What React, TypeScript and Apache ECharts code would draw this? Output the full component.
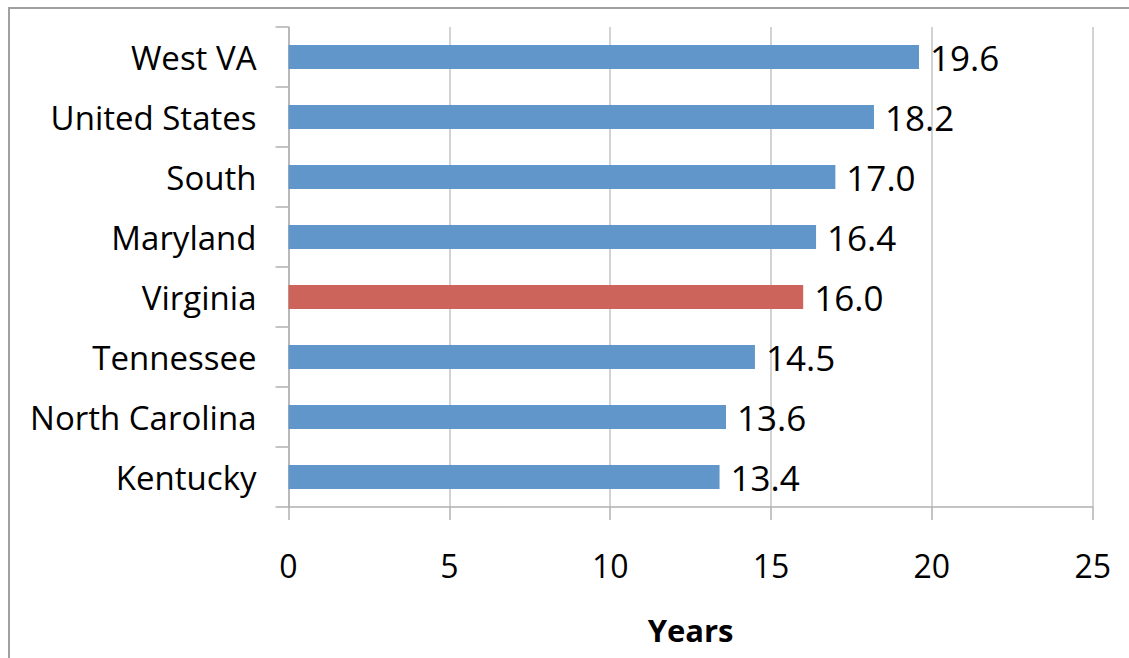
import React, { useEffect, useRef } from "react";
import * as echarts from "echarts";

// Categories listed top to bottom
const categories = [
  "West VA",
  "United States",
  "South",
  "Maryland",
  "Virginia",
  "Tennessee",
  "North Carolina",
  "Kentucky",
];
const values = [19.6, 18.2, 17.0, 16.4, 16.0, 14.5, 13.6, 13.4];
const highlighted = "Virginia";

const xMin = 0;
const xMax = 25;
const xInterval = 5;

const BLUE = "#6096c9";
const RED = "#cc645c";
const FONT = "'Open Sans', sans-serif";

export default function App() {
  const ref = useRef<HTMLDivElement>(null);

  useEffect(() => {
    document.body.style.margin = "0";
    if (!ref.current) return;
    const chart = echarts.init(ref.current, null, { renderer: "svg" });
    chart.setOption({
      animation: false,
      backgroundColor: "#ffffff",
      textStyle: { fontFamily: FONT },
      graphic: [
        {
          type: "rect",
          shape: { x: 9, y: 8, width: 1200, height: 700 },
          style: { fill: "none", stroke: "#a0a0a0", lineWidth: 2 },
          silent: true,
        },
      ],
      grid: { left: 288.5, right: 36.3, top: 27, bottom: 151, containLabel: false },
      xAxis: {
        type: "value",
        min: xMin,
        max: xMax,
        interval: xInterval,
        name: "Years",
        nameLocation: "middle",
        nameGap: 107,
        nameTextStyle: { fontFamily: FONT, fontSize: 31, fontWeight: "bold", color: "#000" },
        axisLine: { show: true, lineStyle: { color: "#b0b0b0", width: 1.5 } },
        axisTick: { show: true, length: 13, lineStyle: { color: "#b0b0b0", width: 1.5 } },
        axisLabel: { fontFamily: FONT, fontSize: 32, color: "#000", margin: 42 },
        splitLine: { show: true, lineStyle: { color: "#c4c4c4", width: 1.5 } },
      },
      yAxis: {
        type: "category",
        inverse: true,
        data: categories,
        axisLine: { show: true, lineStyle: { color: "#b0b0b0", width: 1.5 } },
        axisTick: { show: true, length: 13, lineStyle: { color: "#b0b0b0", width: 1.5 } },
        axisLabel: { fontFamily: FONT, fontSize: 33, color: "#000", margin: 32 },
        splitLine: { show: false },
      },
      series: [
        {
          type: "bar",
          barWidth: 24,
          data: values.map((v, i) => ({
            value: v,
            itemStyle: { color: categories[i] === highlighted ? RED : BLUE },
          })),
          label: {
            show: true,
            position: "right",
            distance: 11,
            fontFamily: FONT,
            fontSize: 35,
            color: "#000",
            formatter: (p: any) => Number(p.value).toFixed(1),
          },
        },
      ],
    });
    return () => chart.dispose();
  }, []);

  return <div ref={ref} style={{ width: 1129, height: 658 }} />;
}
